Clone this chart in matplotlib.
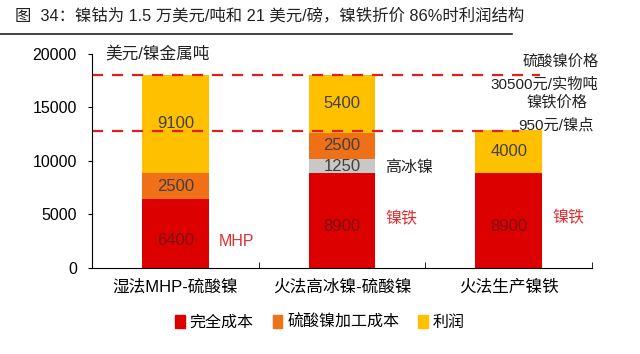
import numpy as np
import matplotlib.pyplot as plt
from matplotlib.patches import Patch

plt.rcParams['font.family'] = ['Liberation Sans', 'Noto Sans CJK SC', 'DejaVu Sans']

categories = ['湿法MHP-硫酸镍', '火法高冰镍-硫酸镍', '火法生产镍铁']
full_cost = [6400, 8900, 8900]
matte_cost = [0, 1250, 0]
sulfate_cost = [2500, 2500, 0]
profit = [9100, 5400, 4000]
sulfate_price_line = 18000
ferro_price_line = 12800

c_red = '#DD0000'
c_orange = '#F07018'
c_yellow = '#FFC000'
c_grey = '#C8C8C8'

fig = plt.figure(figsize=(6.4, 3.54), dpi=100)
ax = fig.add_axes([0.144, 0.243, 0.781, 0.605])

x = np.arange(len(categories)) + 0.5
w = 0.4
full_cost = np.array(full_cost)
matte_cost = np.array(matte_cost)
sulfate_cost = np.array(sulfate_cost)
profit = np.array(profit)

ax.bar(x, full_cost, w, color=c_red)
ax.bar(x, matte_cost, w, bottom=full_cost, color=c_grey)
b2 = full_cost + matte_cost
ax.bar(x, sulfate_cost, w, bottom=b2, color=c_orange)
b3 = b2 + sulfate_cost
ax.bar(x, profit, w, bottom=b3, color=c_yellow)

# value labels
for i in range(len(x)):
    ax.text(x[i], full_cost[i] / 2 - 600, str(full_cost[i]), ha='center', va='center',
            fontsize=12, color='#7a1010')
    if matte_cost[i]:
        ax.text(x[i], full_cost[i] + matte_cost[i] / 2 - 80, str(matte_cost[i]), ha='center',
                va='center', fontsize=12, color='#404040')
    if sulfate_cost[i]:
        ax.text(x[i], b2[i] + sulfate_cost[i] / 2, str(sulfate_cost[i]), ha='center',
                va='center', fontsize=12, color='#404040')
    ax.text(x[i], b3[i] + profit[i] / 2, str(profit[i]), ha='center', va='center',
            fontsize=12, color='#404040')

ax.text(0.76, 2500, 'MHP', color='#E03030', fontsize=11.5, va='center')
ax.text(1.76, 4600, '镍铁', color='#E03030', fontsize=11.5, va='center')
ax.text(2.76, 4650, '镍铁', color='#E03030', fontsize=11.5, va='center')
ax.text(1.76, 9400, '高冰镍', color='#222222', fontsize=11.5, va='center')

ax.plot([0, 2.69], [sulfate_price_line] * 2, color='#E02020', lw=1.6, ls=(0, (5, 4)))
ax.plot([0, 2.56], [ferro_price_line] * 2, color='#E02020', lw=1.6, ls=(0, (5, 4)))

ax.text(3.04, 19250, '硫酸镍价格', ha='right', va='center', fontsize=11, color='#222222')
ax.text(3.04, 17100, '30500元/实物吨', ha='right', va='center', fontsize=11, color='#222222')
ax.text(2.97, 15500, '镍铁价格', ha='right', va='center', fontsize=11, color='#222222')
ax.text(3.01, 13350, '950元/镍点', ha='right', va='center', fontsize=11, color='#222222')

ax.text(0.08, 20000, '美元/镍金属吨', fontsize=12, va='center', color='#222222')

ax.set_xlim(0, 3)
ax.set_ylim(0, 20000)
ax.set_yticks([0, 5000, 10000, 15000, 20000])
ax.tick_params(axis='y', labelsize=11.5, length=3, pad=8)
ax.set_xticks(x)
ax.set_xticklabels(categories, fontsize=12)
ax.tick_params(axis='x', length=0, pad=8)
ax.set_xticks([1, 2, 3], minor=True)
ax.tick_params(axis='x', which='minor', direction='in', length=4)
for s in ['top', 'right']:
    ax.spines[s].set_visible(False)

handles = [Patch(color=c_red), Patch(color=c_orange), Patch(color=c_yellow)]
fig.legend(handles, ['完全成本', '硫酸镍加工成本', '利润'], loc='center',
           bbox_to_anchor=(0.5, 0.09), ncol=3, frameon=False, fontsize=11.5,
           handlelength=0.6, handleheight=0.9, handletextpad=0.3, columnspacing=1.2)

fig.text(0.023, 0.955, '图  34：镍钴为 1.5 万美元/吨和 21 美元/磅，镍铁折价 86%时利润结构',
         fontsize=11.8, va='center', color='#222222')
fig.add_artist(plt.Line2D([0.0, 0.80], [0.905, 0.905], color='#222222', lw=1.2))

fig.savefig('out.png', dpi=100)
